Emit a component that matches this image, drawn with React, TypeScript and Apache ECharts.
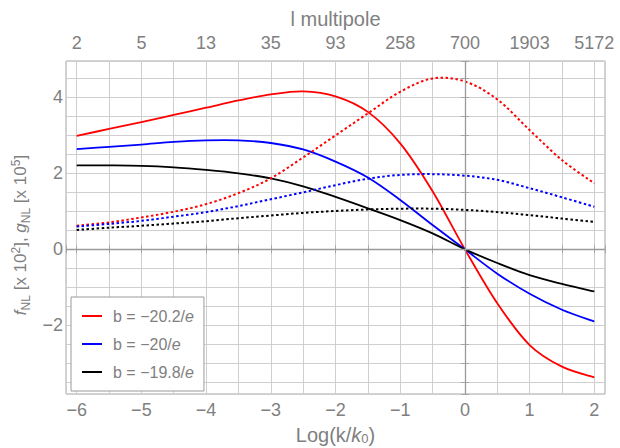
import React, { useEffect, useRef } from 'react';
import * as echarts from 'echarts';

// x positions: Log(k/k0)
const xs = [-6, -5.5, -5, -4.5, -4, -3.5, -3, -2.5, -2, -1.5, -1, -0.5, 0, 0.5, 1, 1.5, 2];

// f_NL [x 10^2] (solid) and g_NL [x 10^5] (dotted)
const fRed = [2.99, 3.17, 3.35, 3.54, 3.73, 3.92, 4.08, 4.16, 4.03, 3.62, 2.79, 1.53, 0, -1.42, -2.52, -3.09, -3.37];
const gRed = [0.62, 0.71, 0.84, 0.99, 1.19, 1.48, 1.87, 2.42, 3.0, 3.58, 4.15, 4.5, 4.42, 3.95, 3.14, 2.35, 1.74];
const fBlue = [2.64, 2.7, 2.76, 2.83, 2.87, 2.87, 2.8, 2.63, 2.31, 1.89, 1.3, 0.64, 0, -0.64, -1.17, -1.59, -1.9];
const gBlue = [0.6, 0.67, 0.75, 0.86, 0.98, 1.14, 1.32, 1.5, 1.69, 1.86, 1.96, 1.98, 1.94, 1.83, 1.61, 1.37, 1.12];
const fBlack = [2.21, 2.21, 2.2, 2.16, 2.09, 2.0, 1.87, 1.66, 1.38, 1.08, 0.77, 0.42, 0, -0.36, -0.68, -0.91, -1.11];
const gBlack = [0.51, 0.57, 0.62, 0.68, 0.74, 0.82, 0.89, 0.96, 1.01, 1.05, 1.07, 1.07, 1.04, 0.98, 0.9, 0.81, 0.72];

// top axis labels (l multipole) at x = -6 ... 2
const topTickValues = [-6, -5, -4, -3, -2, -1, 0, 1, 2];
const topLabels = ['2', '5', '13', '35', '93', '258', '700', '1903', '5172'];

const legendNames = ['b = −20.2/e', 'b = −20/e', 'b = −19.8/e'];

const X_MIN = -6.165;
const X_MAX = 2.165;
const Y_MIN = -3.81;
const Y_MAX = 4.96;

const FONT = 'Liberation Sans, Arial, sans-serif';
const TXT = '#808080';
const GRID = '#cfcfcf';
const FRAME = '#a6a6a6';

const fmt = (v: number) => (v < 0 ? '−' + Math.abs(v) : String(v));
const isInt = (v: number) => Math.abs(v - Math.round(v)) < 1e-9;

export default function App() {
  const ref = useRef<HTMLDivElement>(null);
  useEffect(() => {
    if (!ref.current) return;
    const chart = echarts.init(ref.current, undefined, { renderer: 'svg' });

    // smooth curve through the data points, positioned with the chart's own axes
    const mk = (name: string, vals: number[], color: string, dotted: boolean) => ({
      name,
      type: 'custom',
      coordinateSystem: 'cartesian2d',
      data: xs.map((x, i) => [x, vals[i]]),
      itemStyle: { color },
      z: 3,
      renderItem: (params: any, api: any) => {
        if (params.dataIndex !== 0) return null;
        const pts = xs.map((x, i) => api.coord([x, vals[i]]));
        const n = pts.length;
        let d = `M${pts[0][0]},${pts[0][1]}`;
        for (let i = 0; i < n - 1; i++) {
          const p0 = pts[Math.max(i - 1, 0)];
          const p1 = pts[i];
          const p2 = pts[i + 1];
          const p3 = pts[Math.min(i + 2, n - 1)];
          const c1x = p1[0] + (p2[0] - p0[0]) / 6;
          const c1y = p1[1] + (p2[1] - p0[1]) / 6;
          const c2x = p2[0] - (p3[0] - p1[0]) / 6;
          const c2y = p2[1] - (p3[1] - p1[1]) / 6;
          d += ` C${c1x},${c1y} ${c2x},${c2y} ${p2[0]},${p2[1]}`;
        }
        return {
          type: 'path',
          shape: { pathData: d },
          style: {
            fill: 'none',
            stroke: color,
            lineWidth: dotted ? 2 : 1.8,
            lineDash: dotted ? [2.5, 2.5] : null,
          },
        };
      },
    });
    const axisCommonX = {
      type: 'value',
      min: X_MIN,
      max: X_MAX,
      splitNumber: 16,
      minInterval: 0.5,
      maxInterval: 0.5,
      axisLine: { show: false },
      axisTick: { show: true, inside: true, length: 4, lineStyle: { color: FRAME } },
    };
    const axisCommonY = {
      type: 'value',
      min: Y_MIN,
      max: Y_MAX,
      splitNumber: 17,
      minInterval: 0.5,
      maxInterval: 0.5,
      axisLine: { show: false },
      axisTick: { show: true, inside: true, length: 4, lineStyle: { color: FRAME } },
    };
    const option: any = {
      animation: false,
      backgroundColor: '#ffffff',
      grid: {
        left: 66,
        right: 15,
        top: 61,
        bottom: 54,
        outerBoundsMode: 'none',
        containLabel: false,
        show: true,
        borderColor: FRAME,
        borderWidth: 1,
        backgroundColor: 'transparent',
      },
      xAxis: [
        {
          ...axisCommonX,
          position: 'bottom',
          splitLine: { show: true, lineStyle: { color: GRID, width: 1 } },
          axisLabel: {
            margin: 7,
            fontSize: 18,
            fontFamily: FONT,
            color: TXT,
            formatter: (v: number) => (isInt(v) ? fmt(Math.round(v)) : ''),
          },
          name: '{n|Log(k/}{i|k}{s|0}{n|)}',
          nameLocation: 'middle',
          nameGap: 31,
          nameTextStyle: {
            rich: {
              n: { fontSize: 20, fontFamily: FONT, color: TXT, lineHeight: 20 },
              i: { fontSize: 20, fontFamily: FONT, color: TXT, fontStyle: 'italic', lineHeight: 20 },
              s: { fontSize: 13, fontFamily: FONT, color: TXT, verticalAlign: 'bottom', lineHeight: 13 },
            },
          },
        },
        {
          ...axisCommonX,
          position: 'top',
          splitLine: { show: false },
          axisLabel: {
            margin: 9,
            fontSize: 18,
            fontFamily: FONT,
            color: TXT,
            formatter: (v: number) => {
              if (!isInt(v)) return '';
              const idx = topTickValues.indexOf(Math.round(v));
              return idx >= 0 ? topLabels[idx] : '';
            },
          },
          name: 'l multipole',
          nameLocation: 'middle',
          nameGap: 31,
          nameTextStyle: { fontSize: 20, fontFamily: FONT, color: TXT },
        },
      ],
      yAxis: [
        {
          ...axisCommonY,
          position: 'left',
          splitLine: { show: true, lineStyle: { color: GRID, width: 1 } },
          axisLabel: {
            margin: 3,
            fontSize: 18,
            fontFamily: FONT,
            color: TXT,
            formatter: (v: number) => (isInt(v) && Math.round(v) % 2 === 0 ? fmt(Math.round(v)) : ''),
          },
          name: '{i|f}{s|NL}{n| [x 10}{p|2}{n|], }{i|g}{s|NL}{n| [x 10}{p|5}{n|]}',
          nameLocation: 'middle',
          nameGap: 33,
          nameTextStyle: {
            padding: [0, 15, 0, 0],
            rich: {
              n: { fontSize: 17, fontFamily: FONT, color: TXT, lineHeight: 22 },
              i: { fontSize: 17, fontFamily: FONT, color: TXT, fontStyle: 'italic', lineHeight: 22 },
              s: { fontSize: 12, fontFamily: FONT, color: TXT, verticalAlign: 'bottom' },
              p: { fontSize: 12, fontFamily: FONT, color: TXT, verticalAlign: 'top' },
            },
          },
        },
        {
          ...axisCommonY,
          position: 'right',
          splitLine: { show: false },
          axisLabel: { show: false },
        },
      ],
      legend: {
        data: legendNames.map((n) => ({ name: n, icon: 'rect' })),
        orient: 'vertical',
        left: 71,
        top: 297,
        itemWidth: 20,
        itemHeight: 2,
        itemGap: 10,
        padding: [10, 10, 10, 11],
        backgroundColor: '#ffffff',
        borderColor: '#9a9a9a',
        borderWidth: 1,
        borderRadius: 0,
        formatter: (name: string) => `{n|${name.slice(0, -1)}}{i|e}`,
        textStyle: {
          fontSize: 16,
          fontFamily: FONT,
          color: TXT,
          lineHeight: 18,
          rich: {
            n: { fontSize: 16, fontFamily: FONT, color: TXT, padding: [0, 0, 0, 6], lineHeight: 18 },
            i: { fontSize: 16, fontFamily: FONT, color: TXT, fontStyle: 'italic', lineHeight: 18 },
          },
        },
      },
      series: [
        {
          name: 'zero lines',
          type: 'line',
          data: [],
          silent: true,
          z: 1,
          markLine: {
            silent: true,
            symbol: 'none',
            label: { show: false },
            lineStyle: { color: '#9a9a9a', width: 1.3, type: 'solid' },
            data: [{ xAxis: 0 }, { yAxis: 0 }],
          },
        },
        mk(legendNames[0], fRed, '#ff0000', false),
        mk(legendNames[1], fBlue, '#0000ff', false),
        mk(legendNames[2], fBlack, '#000000', false),
        mk('g red', gRed, '#ff0000', true),
        mk('g blue', gBlue, '#0000ff', true),
        mk('g black', gBlack, '#000000', true),
      ],
    };
    chart.setOption(option);
    return () => chart.dispose();
  }, []);
  return (
    <div
      ref={ref}
      style={{ position: 'fixed', left: 0, top: 0, width: 620, height: 448, background: '#fff' }}
    />
  );
}
